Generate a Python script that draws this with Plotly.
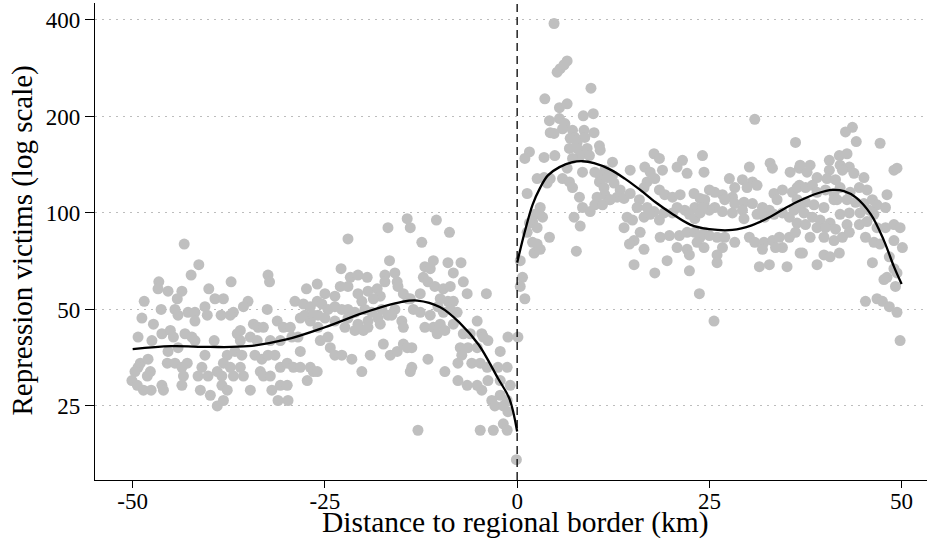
import plotly.graph_objects as go

# ---- scatter data: left of border (km, victims) ----
left_pts = [
    (-43.3,80),(-41.4,69),(-42.4,64),(-46.6,61),(-46.7,58),(-45.4,57),(-43.6,57),(-44.2,54),(-40.1,58),(-39.3,54),
    (-48.5,53),(-46.3,50),(-44.5,50),(-44.1,48),(-42.8,49),(-41.9,49),(-40.6,51),(-40.3,48),(-48.8,47),(-47.3,45),
    (-38.5,48),(-41.9,46),(-49.3,41),(-47.5,40),(-46.2,42),(-45.1,43),(-44.7,41),(-43.2,42),(-42.3,41),(-41.9,40),
    (-39.4,40),(-45.4,37),(-44.1,38),(-40.6,36),(-49.0,34),(-48.0,35),(-49.3,33),(-49.7,32),(-45.5,34),(-44.5,34),
    (-42.9,34),(-43.6,33),(-47.7,32),(-48.1,31),(-41.0,33),(-41.5,31),(-40.2,31),(-39.0,32),(-38.4,31),(-43.4,31),
    (-50.1,30),(-49.4,29),(-48.6,28),(-47.6,28),(-46.2,29),(-46.0,28),(-43.6,29),(-41.2,28),(-39.9,27),(-39.0,25),
    (-37.2,61),(-32.4,64),(-32.2,61),(-27.4,58),(-26.0,60),(-38.2,54),(-35.0,53),(-35.6,51),(-36.9,49),(-37.3,48),
    (-32.5,50),(-28.9,53),(-27.8,52),(-26.9,51),(-26.0,53),(-34.3,45),(-33.7,44),(-36.0,43),(-36.4,42),(-33.0,44),
    (-31.2,46),(-30.4,44),(-29.5,44),(-28.2,47),(-27.6,48),(-26.9,46),(-26.5,48),(-25.9,48),(-36.0,40),(-34.7,41),
    (-33.8,40),(-32.1,40),(-30.8,40),(-29.3,41),(-28.5,41),(-37.7,36),(-36.7,37),(-35.8,36),(-34.1,36),(-33.2,35),
    (-32.4,36),(-31.5,36),(-28.2,37),(-38.2,34),(-37.3,33),(-36.0,33),(-35.6,31),(-36.9,31),(-33.4,32),(-33.0,31),
    (-32.1,31),(-30.8,33),(-29.9,34),(-29.1,33),(-28.2,33),(-26.9,33),(-26.5,32),(-38.4,29),(-37.7,28),(-38.2,26),
    (-34.7,28),(-31.9,28),(-30.8,29),(-29.9,29),(-31.1,26),(-29.8,26),(-27.3,30),
    (-14.3,96),(-13.9,90),(-16.8,90),(-22.0,83),(-16.6,71),(-22.9,67),(-21.7,63),(-20.7,64),(-19.5,63),(-17.2,64),
    (-15.9,65),(-15.6,61),(-17.2,61),(-25.0,56),(-23.7,55),(-23.0,59),(-22.0,59),(-20.7,56),(-19.4,57),(-18.2,58),
    (-17.8,55),(-18.7,54),(-20.2,53),(-15.5,59),(-14.8,56),(-14.2,54),(-25.4,52),(-24.6,50),(-23.7,51),(-22.8,50),
    (-22.0,50),(-21.1,49),(-19.8,50),(-18.9,49),(-17.6,50),(-16.8,48),(-15.9,50),(-25.0,47),(-23.7,46),(-22.0,47),
    (-20.7,45),(-19.4,46),(-18.1,47),(-16.3,48),(-15.0,46),(-14.8,44),(-25.9,44),(-22.4,44),(-21.1,43),(-20.0,43),
    (-19.4,44),(-17.8,45),(-24.6,41),(-25.6,40),(-24.3,38),(-23.7,36),(-22.8,36),(-21.5,35),(-19.1,36),(-17.4,39),
    (-16.5,36),(-15.6,37),(-14.8,39),(-14.3,38),(-26.0,32),(-20.2,32),(-13.9,32),
    (-10.5,95),(-8.8,87),(-12.4,81),(-10.9,71),(-9.0,70),(-7.3,70),(-12.0,68),(-11.3,67),(-8.3,65),(-12.2,63),
    (-11.6,61),(-10.7,59),(-9.6,58),(-8.7,59),(-7.0,61),(-6.5,56),(-4.0,56),(-12.6,56),(-13.9,54),(-10.0,54),
    (-9.0,53),(-8.3,53),(-10.3,51),(-9.6,49),(-8.7,50),(-7.8,49),(-13.5,50),(-12.6,49),(-11.3,48),(-12.0,44),
    (-10.9,44),(-10.0,45),(-10.4,42),(-9.4,43),(-8.3,45),(-5.2,46),(-7.0,42),(-6.1,42),(-4.6,42),(-4.4,41),
    (-1.2,41),(-7.4,38),(-6.4,38),(-5.2,38),(-3.8,40),(-2.2,37),(-7.2,36),(-11.6,35),(-13.7,38),(-13.7,33),
    (-9.4,32),(-7.7,34),(-5.9,34),(-4.8,34),(-3.9,33),(-2.5,33),(-1.3,33),(-7.7,30),(-6.5,29),(-5.2,29),
    (-4.6,28),(-3.8,30),(-2.2,30),(-0.9,29),(-3.3,26),(-2.2,27),(-1.3,26),(-2.9,25),(-1.8,25),(-1.2,24),
    (-12.9,21),(-4.8,21),(-3.1,21),(-1.8,22),(-1.3,21),(-0.1,17),
]

# ---- scatter data: right of border (km, victims) ----
right_pts = [
    (4.8,390),(6.5,298),(6.1,290),(5.6,282),(5.2,275),(9.6,245),(3.6,227),(5.5,213),(6.5,219),(8.6,201),
    (9.9,204),(4.2,194),(5.5,197),(6.2,190),(5.9,183),(4.8,177),(4.3,178),(7.2,181),(7.5,172),(6.9,171),
    (8.7,181),(10.0,178),(8.8,172),(7.8,166),(10.7,162),(10.8,157),(6.8,159),(7.8,159),(9.1,159),(8.2,151),
    (7.2,148),(9.4,151),(1.6,155),(1.0,148),(3.5,149),(4.9,151),(6.5,138),(8.5,134),(10.1,134),(11.4,136),
    (12.4,131),(2.6,128),(3.5,129),(4.3,128),(3.9,124),(5.9,128),(6.8,125),(7.2,120),(10.8,131),(10.7,125),
    (11.3,120),(11.4,114),(10.4,112),(12.0,110),(1.3,115),(8.1,112),(8.5,104),(9.5,101),(10.1,106),(11.1,106),
    (3.0,104),(2.3,99),(3.3,97),(2.0,94),(1.6,93),(2.6,90),(7.4,97),(8.2,91),(1.3,87),(2.0,81),
    (2.6,80),(2.2,75),(3.0,77),(4.2,84),(7.7,76),(0.4,71),(0.7,63),(0.4,59),(1.0,54),(0.1,41),
    (17.8,153),(18.5,148),(12.4,144),(21.5,146),(20.8,139),(22.1,133),(24.1,151),(24.3,134),
    (14.7,136),(16.6,139),(17.3,134),(18.9,136),(17.9,128),(16.9,125),(16.5,120),(11.7,129),(12.6,124),(13.4,118),
    (13.0,112),(12.1,110),(13.9,111),(14.7,115),(18.5,118),(19.2,114),(20.2,112),(21.2,114),(23.0,115),(23.8,111),
    (15.9,110),(15.6,104),(16.9,104),(17.8,101),(20.8,104),(21.8,102),(23.1,104),(24.3,107),(14.3,97),(15.0,95),
    (13.9,90),(16.5,97),(17.3,99),(18.5,95),(19.1,100),(20.2,100),(22.4,99),(23.1,96),(23.8,100),(16.0,87),
    (15.2,82),(14.6,80),(18.6,84),(19.8,85),(21.1,85),(22.1,87),(23.1,87),(23.8,84),(20.8,78),(22.1,77),
    (23.4,81),(24.3,78),(16.5,77),(22.4,74),(15.2,69),(19.5,71),(17.9,65),(22.4,66),(23.7,56),
    (30.9,196),(36.2,166),(32.9,143),(33.2,138),(30.2,139),(35.5,134),(36.7,138),
    (27.6,128),(29.3,127),(30.6,125),(31.2,122),(29.9,120),(28.3,120),(28.0,112),(26.7,114),(25.7,116),(25.0,118),
    (24.4,110),(33.4,115),(34.5,118),(33.8,110),(35.8,116),(36.4,110),(36.7,122),(27.0,110),(28.3,107),(29.5,108),
    (30.6,107),(25.7,104),(25.0,102),(26.7,101),(28.0,100),(29.3,102),(29.5,96),(24.1,104),(31.9,104),(32.8,102),
    (32.2,97),(31.2,99),(33.4,99),(34.5,100),(35.4,97),(36.0,102),(36.8,104),(24.4,87),(25.0,85),(26.0,84),
    (27.0,84),(28.3,81),(30.2,84),(30.9,81),(32.1,81),(33.2,82),(34.1,84),(35.4,84),(36.2,87),(34.5,78),
    (33.6,78),(31.9,77),(26.7,78),(26.0,74),(26.0,70),(31.5,68),(32.8,69),(35.1,68),(36.8,75),(25.6,46),
    (43.6,185),(42.7,179),(44.1,167),(47.2,165),(41.9,151),(42.9,153),(40.6,146),
    (36.8,141),(38.1,141),(37.7,134),(39.0,129),(42.0,141),(43.2,139),(42.3,136),(43.8,133),(45.1,129),(49.0,136),
    (49.4,138),(40.6,136),(40.3,128),(41.4,127),(36.4,120),(37.5,120),(38.4,122),(39.0,116),(40.1,118),(41.2,115),
    (42.0,120),(43.3,116),(44.5,120),(45.5,118),(48.1,114),(37.5,108),(38.6,106),(39.9,104),(41.2,110),(41.6,110),
    (42.9,110),(44.0,108),(45.1,107),(46.2,110),(46.8,106),(47.9,104),(37.3,100),(38.4,97),(39.4,95),(40.7,93),
    (42.0,99),(43.2,100),(44.6,100),(45.8,102),(46.4,99),(36.4,93),(37.5,92),(39.0,90),(40.1,90),(41.4,89),
    (42.9,92),(44.5,92),(45.5,94),(46.8,90),(47.9,90),(49.0,92),(49.8,90),(38.1,84),(39.9,84),(41.2,82),
    (42.3,84),(43.2,87),(45.3,84),(46.4,81),(47.2,80),(49.0,82),(50.1,78),(37.1,75),(39.9,74),(40.7,73),
    (41.9,75),(39.0,69),(46.2,70),(48.4,73),(49.0,67),(49.4,65),(48.1,63),(47.7,62),(49.2,59),(45.3,53),
    (46.8,54),(47.5,53),(48.4,51),(49.4,49),(49.8,40),
]

left_x = [p[0] for p in left_pts]
left_y = [p[1] for p in left_pts]
right_x = [p[0] for p in right_pts]
right_y = [p[1] for p in right_pts]

# ---- fitted curves ----
fit_left_x = [-50, -45, -40, -35, -30, -25, -20, -15, -13, -10, -7.5, -5, -2.5, -1, 0]
fit_left_y = [37.6, 38.4, 38.2, 38.4, 40.3, 44.0, 48.8, 52.8, 53.3, 50.8, 45.5, 38.8, 30.5, 26.3, 20.8]
fit_right_x = [0, 1, 2, 3, 4, 5.5, 7.2, 8.5, 10, 12, 14, 16, 18, 20, 22.5, 25, 28, 30.5, 33, 35, 37, 39, 41, 42.5, 44, 46, 47.7, 49, 50]
fit_right_y = [70, 87.5, 106, 120, 131, 139, 144, 145, 143, 137, 128, 118, 108, 100, 92, 89, 88.5, 91.5, 97.5, 104, 110, 115, 118, 117, 112, 99, 82, 68, 60]

x_ticks = [-50, -25, 0, 25, 50]
x_tick_text = ["-50", "-25", "0", "25", "50"]
y_ticks = [25, 50, 100, 200, 400]
y_tick_text = ["25", "50", "100", "200", "400"]
x_title = "Distance to regional border (km)"
y_title = "Repression victims (log scale)"

FONT = "Liberation Serif"
grey = "#bfbfbf"

fig = go.Figure()
fig.add_trace(go.Scatter(x=left_x + right_x, y=left_y + right_y, mode="markers",
                         marker=dict(size=11, color=grey, line=dict(width=0)),
                         showlegend=False, hoverinfo="skip"))
fig.add_trace(go.Scatter(x=fit_left_x, y=fit_left_y, mode="lines",
                         line=dict(color="black", width=2.3, shape="spline"), showlegend=False))
fig.add_trace(go.Scatter(x=fit_right_x, y=fit_right_y, mode="lines",
                         line=dict(color="black", width=2.3, shape="spline"), showlegend=False))

fig.add_shape(type="line", x0=0, x1=0, xref="x", y0=0, y1=1, yref="paper",
              line=dict(color="black", width=1.3, dash="8px,5px"), layer="above")

# axis titles as annotations for exact placement
fig.add_annotation(text=x_title, xref="paper", yref="paper", x=0.505, y=-0.089,
                   xanchor="center", yanchor="middle", showarrow=False,
                   font=dict(family=FONT, size=29.5, color="black"))
fig.add_annotation(text=y_title, xref="paper", yref="paper", x=-0.0865, y=0.502,
                   xanchor="center", yanchor="middle", showarrow=False, textangle=-90,
                   font=dict(family=FONT, size=29, color="black"))

fig.update_layout(
    width=932, height=552,
    margin=dict(l=95, r=5, t=3, b=72),
    paper_bgcolor="white", plot_bgcolor="white",
    font=dict(family=FONT, size=23, color="black"),
    xaxis=dict(range=[-54.9, 53.3], tickvals=x_ticks, ticktext=x_tick_text,
               ticks="outside", ticklen=7, tickwidth=1.2, tickcolor="black",
               showline=True, linecolor="black", linewidth=1.3,
               showgrid=False, zeroline=False, automargin=False,
               ticklabelstandoff=-7,
               tickfont=dict(family=FONT, size=23)),
    yaxis=dict(type="log", range=[1.167, 2.655],
               tickvals=y_ticks, ticktext=y_tick_text,
               ticks="outside", ticklen=9, tickwidth=1.2, tickcolor="black",
               showline=True, linecolor="black", linewidth=1.3,
               showgrid=True, gridcolor="#bdbdbd", gridwidth=1, griddash="2px,5px",
               zeroline=False, automargin=False,
               tickfont=dict(family=FONT, size=23)),
)

fig.write_html("out.html", config={"displayModeBar": False},
               post_script="document.body.style.margin='0';document.body.style.overflow='hidden';")
